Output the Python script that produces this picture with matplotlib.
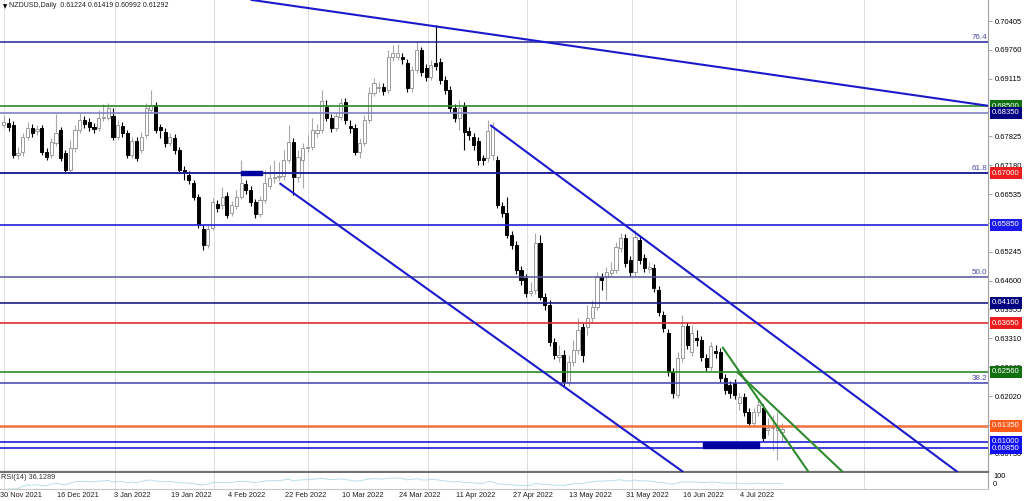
import numpy as np
import pandas as pd
import matplotlib.pyplot as plt
from matplotlib.patches import Rectangle

plt.rcParams['font.family'] = ['Liberation Sans', 'DejaVu Sans']

# NZDUSD daily candles, one entry per bar
opens = [0.6808, 0.6812, 0.6808, 0.6741, 0.6748, 0.6781, 0.6801, 0.6795, 0.6801, 0.6748,
         0.6741, 0.6768, 0.6797, 0.6745, 0.6707, 0.6757, 0.6797, 0.6819, 0.6815, 0.6803,
         0.6801, 0.6824, 0.6824, 0.6828, 0.6781, 0.6806, 0.6790, 0.6741, 0.6772, 0.6752,
         0.6786, 0.6842, 0.6853, 0.6803, 0.6792, 0.6768, 0.6779, 0.6752, 0.6707, 0.6696,
         0.6678, 0.6647, 0.6575, 0.6540, 0.6578, 0.6631, 0.6629, 0.6649, 0.6611, 0.6627,
         0.6647, 0.6676, 0.6663, 0.6636, 0.6609, 0.6640, 0.6672, 0.6690, 0.6692, 0.6694,
         0.6730, 0.6770, 0.6692, 0.6730, 0.6757, 0.6759, 0.6790, 0.6797, 0.6848, 0.6824,
         0.6801, 0.6826, 0.6859, 0.6806, 0.6801, 0.6748, 0.6768, 0.6819, 0.6880, 0.6891,
         0.6893, 0.6886, 0.6960, 0.6960, 0.6960, 0.6947, 0.6891, 0.6931, 0.6976, 0.6935,
         0.6915, 0.6947, 0.6949, 0.6909, 0.6886, 0.6846, 0.6824, 0.6850, 0.6795, 0.6781,
         0.6772, 0.6734, 0.6734, 0.6741, 0.6730, 0.6627, 0.6611, 0.6562, 0.6540, 0.6484,
         0.6466, 0.6432, 0.6439, 0.6544, 0.6423, 0.6406, 0.6323, 0.6289, 0.6294, 0.6233,
         0.6278, 0.6305, 0.6356, 0.6356, 0.6376, 0.6401, 0.6468, 0.6468, 0.6477, 0.6484,
         0.6533, 0.6555, 0.6506, 0.6479, 0.6551, 0.6511, 0.6486, 0.6488, 0.6439, 0.6383,
         0.6343, 0.6256, 0.6204, 0.6287, 0.6359, 0.6300, 0.6332, 0.6327, 0.6287, 0.6267,
         0.6303, 0.6300, 0.6242, 0.6227, 0.6231, 0.6186, 0.6200, 0.6166, 0.6142, 0.6166,
         0.6175, 0.6126, 0.6131, 0.6126, 0.61224]
highs = [0.6830, 0.6824, 0.6817, 0.6759, 0.6790, 0.6815, 0.6810, 0.6808, 0.6808, 0.6757,
         0.6779, 0.6833, 0.6803, 0.6752, 0.6774, 0.6808, 0.6835, 0.6828, 0.6824, 0.6812,
         0.6842, 0.6855, 0.6857, 0.6846, 0.6819, 0.6815, 0.6797, 0.6781, 0.6781, 0.6792,
         0.6857, 0.6886, 0.6859, 0.6810, 0.6801, 0.6790, 0.6788, 0.6759, 0.6716, 0.6705,
         0.6685, 0.6654, 0.6584, 0.6584, 0.6645, 0.6640, 0.6669, 0.6658, 0.6638, 0.6663,
         0.6730, 0.6685, 0.6672, 0.6643, 0.6649, 0.6707, 0.6719, 0.6730, 0.6725, 0.6752,
         0.6808, 0.6779, 0.6752, 0.6768, 0.6786, 0.6824, 0.6810, 0.6886, 0.6864, 0.6833,
         0.6837, 0.6868, 0.6868, 0.6819, 0.6810, 0.6779, 0.6830, 0.6893, 0.6913, 0.6904,
         0.6902, 0.6976, 0.6987, 0.6989, 0.6969, 0.6956, 0.6940, 0.6996, 0.6982, 0.6944,
         0.6953, 0.7032, 0.6958, 0.6918, 0.6895, 0.6855, 0.6864, 0.6859, 0.6803, 0.6790,
         0.6781, 0.6741, 0.6819, 0.6815, 0.6739, 0.6636, 0.6647, 0.6571, 0.6549, 0.6493,
         0.6475, 0.6457, 0.6566, 0.6562, 0.6432, 0.6417, 0.6332, 0.6316, 0.6305, 0.6294,
         0.6327, 0.6376, 0.6365, 0.6406, 0.6417, 0.6479, 0.6477, 0.6490, 0.6502, 0.6546,
         0.6566, 0.6564, 0.6515, 0.6573, 0.6560, 0.6520, 0.6502, 0.6497, 0.6448, 0.6392,
         0.6352, 0.6265, 0.6300, 0.6383, 0.6368, 0.6361, 0.6350, 0.6336, 0.6296, 0.6323,
         0.6316, 0.6309, 0.6251, 0.6236, 0.6240, 0.6209, 0.6209, 0.6175, 0.6175, 0.6198,
         0.6184, 0.6153, 0.6160, 0.6166, 0.61419]
lows = [0.6801, 0.6795, 0.6734, 0.6732, 0.6739, 0.6774, 0.6781, 0.6786, 0.6741, 0.6730,
        0.6734, 0.6761, 0.6728, 0.6703, 0.6703, 0.6748, 0.6790, 0.6801, 0.6795, 0.6790,
        0.6795, 0.6817, 0.6819, 0.6774, 0.6774, 0.6781, 0.6734, 0.6734, 0.6728, 0.6745,
        0.6779, 0.6837, 0.6790, 0.6779, 0.6759, 0.6761, 0.6743, 0.6703, 0.6685, 0.6676,
        0.6640, 0.6578, 0.6528, 0.6533, 0.6573, 0.6614, 0.6620, 0.6600, 0.6605, 0.6620,
        0.6643, 0.6654, 0.6627, 0.6600, 0.6602, 0.6634, 0.6665, 0.6678, 0.6683, 0.6685,
        0.6723, 0.6652, 0.6681, 0.6667, 0.6748, 0.6752, 0.6781, 0.6790, 0.6817, 0.6792,
        0.6795, 0.6819, 0.6810, 0.6790, 0.6741, 0.6734, 0.6761, 0.6812, 0.6873, 0.6882,
        0.6875, 0.6880, 0.6951, 0.6953, 0.6944, 0.6882, 0.6882, 0.6924, 0.6918, 0.6906,
        0.6909, 0.6931, 0.6900, 0.6877, 0.6837, 0.6815, 0.6797, 0.6752, 0.6774, 0.6752,
        0.6719, 0.6719, 0.6725, 0.6730, 0.6622, 0.6602, 0.6555, 0.6531, 0.6475, 0.6450,
        0.6423, 0.6426, 0.6430, 0.6417, 0.6394, 0.6314, 0.6285, 0.6278, 0.6224, 0.6224,
        0.6269, 0.6296, 0.6278, 0.6338, 0.6368, 0.6394, 0.6439, 0.6417, 0.6470, 0.6477,
        0.6524, 0.6490, 0.6470, 0.6470, 0.6497, 0.6479, 0.6477, 0.6435, 0.6381, 0.6345,
        0.6247, 0.6198, 0.6198, 0.6278, 0.6307, 0.6292, 0.6314, 0.6280, 0.6258, 0.6258,
        0.6287, 0.6233, 0.6207, 0.6198, 0.6195, 0.6171, 0.6157, 0.6133, 0.6133, 0.6157,
        0.6101, 0.6115, 0.6081, 0.6059, 0.60992]
closes = [0.6815, 0.6803, 0.6741, 0.6745, 0.6781, 0.6801, 0.6790, 0.6799, 0.6748, 0.6736,
          0.6770, 0.6790, 0.6734, 0.6707, 0.6757, 0.6797, 0.6819, 0.6810, 0.6803, 0.6799,
          0.6824, 0.6826, 0.6846, 0.6781, 0.6808, 0.6790, 0.6741, 0.6772, 0.6734, 0.6781,
          0.6846, 0.6853, 0.6797, 0.6797, 0.6768, 0.6781, 0.6752, 0.6707, 0.6701, 0.6685,
          0.6647, 0.6584, 0.6540, 0.6575, 0.6636, 0.6622, 0.6647, 0.6607, 0.6629, 0.6647,
          0.6678, 0.6663, 0.6636, 0.6609, 0.6640, 0.6678, 0.6690, 0.6692, 0.6694, 0.6730,
          0.6770, 0.6692, 0.6736, 0.6757, 0.6759, 0.6797, 0.6797, 0.6862, 0.6824, 0.6801,
          0.6828, 0.6857, 0.6819, 0.6801, 0.6748, 0.6768, 0.6819, 0.6880, 0.6902, 0.6893,
          0.6884, 0.6960, 0.6969, 0.6969, 0.6956, 0.6891, 0.6931, 0.6976, 0.6926, 0.6915,
          0.6942, 0.6940, 0.6909, 0.6886, 0.6846, 0.6824, 0.6846, 0.6792, 0.6786, 0.6763,
          0.6730, 0.6730, 0.6795, 0.6803, 0.6629, 0.6611, 0.6562, 0.6540, 0.6484, 0.6461,
          0.6432, 0.6437, 0.6544, 0.6423, 0.6406, 0.6323, 0.6294, 0.6294, 0.6233, 0.6278,
          0.6305, 0.6350, 0.6294, 0.6376, 0.6401, 0.6468, 0.6461, 0.6479, 0.6484, 0.6535,
          0.6555, 0.6499, 0.6479, 0.6558, 0.6506, 0.6488, 0.6490, 0.6444, 0.6390, 0.6354,
          0.6256, 0.6209, 0.6287, 0.6359, 0.6316, 0.6343, 0.6327, 0.6289, 0.6267, 0.6314,
          0.6298, 0.6242, 0.6215, 0.6209, 0.6204, 0.6200, 0.6166, 0.6142, 0.6166, 0.6182,
          0.6108, 0.6131, 0.6133, 0.6131, 0.61292]

date_labels = ['30 Nov 2021', '16 Dec 2021', '3 Jan 2022', '19 Jan 2022', '4 Feb 2022',
               '22 Feb 2022', '10 Mar 2022', '24 Mar 2022', '11 Apr 2022', '27 Apr 2022',
               '13 May 2022', '31 May 2022', '16 Jun 2022', '4 Jul 2022']
label_bars = [0, 12, 24, 36, 48, 60, 72, 84, 96, 108, 120, 132, 144, 156]
grid_bars = [0, 23.5, 44.2, 64.2, 89.3, 110.3, 132.4, 154.3, 181.3]

price_ticks = [0.70405, 0.69760, 0.69115, 0.68470, 0.67825, 0.67180, 0.66535, 0.65890,
               0.65245, 0.64600, 0.63955, 0.63310, 0.62665, 0.62020, 0.61375, 0.60730]

# horizontal levels with their line colour and price-box colour
levels = [0.6850, 0.6835, 0.6700, 0.6585, 0.6410, 0.6365, 0.6256, 0.6135, 0.6100, 0.6085]
level_line_colors = ['#2a8a2a', '#8080c0', '#22229a', '#2020d8', '#1c1c8c',
                     '#e03030', '#2a8a2a', '#f07040', '#2020d8', '#2020d8']
level_box_colors = ['#107010', '#000080', '#ee1c1c', '#1818e8', '#000080',
                    '#ee1c1c', '#107010', '#ff5a1a', '#1010f0', '#1010f0']

# fibonacci lines (61.8 sits on the 0.6700 level)
fib_prices = [0.6994, 0.6700, 0.6468, 0.6231]
fib_names = ['76.4', '61.8', '50.0', '38.2']
fib_colors = ['#22229a', '#22229a', '#55559a', '#4040b0']

# trendlines as (bar, price) end points
blue_lines = [[(52.0, 0.7088), (207.4, 0.6851)],
              [(102.5, 0.6808), (201.0, 0.6032)],
              [(58.1, 0.6678), (143.2, 0.6032)]]
green_lines = [[(151.4, 0.6312), (169.6, 0.6032)],
               [(154.5, 0.6256), (176.8, 0.6032)]]

# thick zones: bar start, bar end, price low, price high
zones = [(49.9, 54.5, 0.6697, 0.6706), (147.4, 159.2, 0.6085, 0.6100)]

fig = plt.figure(figsize=(10.24, 5.01), dpi=100)
ax = fig.add_axes([0, 0.0579, 988 / 1024, 0.9421])
ax_rsi = fig.add_axes([0, 0.024, 988 / 1024, 0.032], sharex=ax)

x = np.arange(len(closes))
o = np.array(opens)
c = np.array(closes)
h = np.array(highs)
l = np.array(lows)
up = c >= o

# grid lines
for g in grid_bars:
    ax.axvline(g, color='#dcdcdc', lw=0.7, zorder=0)
    ax_rsi.axvline(g, color='#dcdcdc', lw=0.7, zorder=0)

# wicks and bodies
ax.vlines(x[up], l[up], h[up], color='#a8a8a8', lw=0.8, zorder=2)
ax.vlines(x[~up], l[~up], h[~up], color='black', lw=0.8, zorder=2)
bottoms = np.minimum(o, c)
heights = np.maximum(np.abs(c - o), 0.00004)
ax.bar(x[up], heights[up], bottom=bottoms[up], width=0.66, color='white',
       edgecolor='#9a9a9a', linewidth=0.7, zorder=3)
ax.bar(x[~up], heights[~up], bottom=bottoms[~up], width=0.66, color='black',
       edgecolor='black', linewidth=0.7, zorder=3)

# horizontal levels and price boxes
for p, lc, bc in zip(levels, level_line_colors, level_box_colors):
    ax.axhline(p, color=lc, lw=1.2 if lc != '#f07040' else 1.8, zorder=4)
    ax.text(1.0 + 4 / 988, p, '%.5f' % p, transform=ax.get_yaxis_transform(),
            ha='left', va='center', fontsize=5.6, color='white', clip_on=False, zorder=6,
            bbox=dict(boxstyle='square,pad=0.3', fc=bc, ec='none'))

for p, name, fc in zip(fib_prices, fib_names, fib_colors):
    ax.axhline(p, color=fc, lw=1.1, zorder=4)
    ax.text(0.999, p + 0.0002, name, transform=ax.get_yaxis_transform(),
            ha='right', va='bottom', fontsize=5.8, color='#4848a8', zorder=5)

for seg in blue_lines:
    (x0, y0), (x1, y1) = seg
    ax.plot([x0, x1], [y0, y1], color='#1a1acc', lw=1.5, zorder=4, solid_capstyle='butt')
for seg in green_lines:
    (x0, y0), (x1, y1) = seg
    ax.plot([x0, x1], [y0, y1], color='#2e8b2e', lw=1.5, zorder=4, solid_capstyle='butt')

for x0, x1, p0, p1 in zones:
    ax.add_patch(Rectangle((x0, p0), x1 - x0, p1 - p0, color='#0000a0', zorder=4))

ax.set_xlim(-0.63, 207.4)
ax.set_ylim(0.60321, 0.70875)
ax.yaxis.tick_right()
ax.set_yticks(price_ticks)
ax.set_yticklabels(['%.5f' % t for t in price_ticks])
ax.tick_params(axis='y', length=3, width=0.6, color='#909090', pad=2, labelsize=5.4)
ax.tick_params(axis='x', bottom=False, labelbottom=False)
for s in ['top', 'left']:
    ax.spines[s].set_visible(False)
ax.spines['right'].set_color('#a0a0a0')
ax.spines['bottom'].set_color('#707070')
ax.spines['bottom'].set_linewidth(1.6)

ax.text(0.003, 0.992, '\u25bc', transform=ax.transAxes, fontsize=4, va='top', ha='left',
        family=['DejaVu Sans'])
ax.text(0.009, 0.995, 'NZDUSD,Daily  0.61224 0.61419 0.60992 0.61292', transform=ax.transAxes,
        fontsize=5.0, va='top', ha='left', color='#202020')

# RSI(14) panel
delta = pd.Series(closes).diff()
gain = delta.clip(lower=0).ewm(alpha=1 / 14, adjust=False).mean()
loss = (-delta.clip(upper=0)).ewm(alpha=1 / 14, adjust=False).mean()
rsi = 100 - 100 / (1 + gain / loss)
ax_rsi.plot(x[1:], rsi[1:], color='#b0d8e8', lw=0.6)
ax_rsi.set_ylim(0, 100)
ax_rsi.set_yticks([])
ax_rsi.text(0.001, 0.95, 'RSI(14) 36.1289', transform=ax_rsi.transAxes, fontsize=5.3,
            va='top', ha='left', color='#303030')
ax_rsi.text(1.005, 0.75, '100', transform=ax_rsi.transAxes, fontsize=5.3, va='center', clip_on=False)
ax_rsi.text(1.005, 0.25, '0', transform=ax_rsi.transAxes, fontsize=5.3, va='center', clip_on=False)
for s in ['top', 'left']:
    ax_rsi.spines[s].set_visible(False)
ax_rsi.spines['right'].set_color('#a0a0a0')
ax_rsi.spines['bottom'].set_color('#c8c8c8')
ax_rsi.set_xticks([b - 0.8 for b in label_bars])
ax_rsi.set_xticklabels(date_labels, ha='left')
ax_rsi.tick_params(axis='x', length=0, pad=2.5, labelsize=5.3, labelcolor='#202020')

plt.savefig('out.png', dpi=100)
